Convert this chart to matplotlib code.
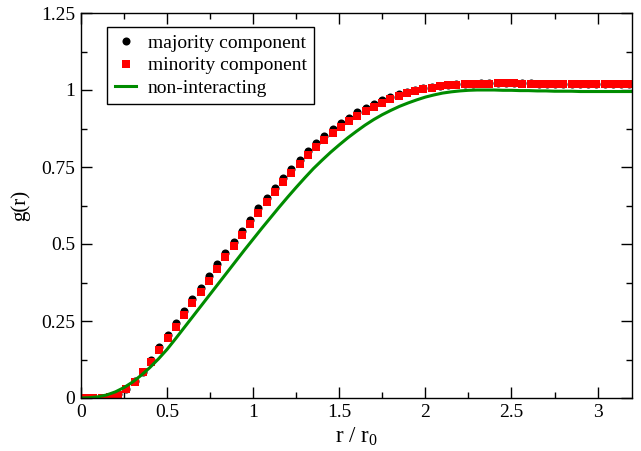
import numpy as np
import matplotlib
matplotlib.use('Agg')
import matplotlib.pyplot as plt
from matplotlib.ticker import MultipleLocator, FormatStrFormatter

plt.rcParams['font.family'] = ['Liberation Serif', 'DejaVu Serif']
plt.rcParams['mathtext.fontset'] = 'custom'
plt.rcParams['mathtext.rm'] = 'Liberation Serif'

# r / r0 grid of the simulated points (bin centres)
r_pts = (np.arange(67) + 0.5) * 0.0479

g_majority = [0.000, 0.000, 0.001, 0.004, 0.012, 0.029, 0.054, 0.086, 0.123, 0.164,
              0.206, 0.244, 0.282, 0.321, 0.357, 0.395, 0.434, 0.472, 0.507, 0.543,
              0.579, 0.616, 0.650, 0.682, 0.714, 0.745, 0.774, 0.803, 0.829, 0.852,
              0.874, 0.893, 0.910, 0.927, 0.941, 0.954, 0.966, 0.977, 0.986, 0.994,
              1.000, 1.006, 1.010, 1.014, 1.016, 1.018, 1.020, 1.021, 1.022, 1.022,
              1.023, 1.023, 1.023, 1.022, 1.022, 1.021, 1.021, 1.020, 1.020, 1.020,
              1.019, 1.019, 1.019, 1.019, 1.019, 1.019, 1.019]

g_minority = [0.000, 0.000, 0.001, 0.003, 0.011, 0.028, 0.052, 0.083, 0.117, 0.156,
              0.196, 0.232, 0.269, 0.307, 0.343, 0.381, 0.420, 0.458, 0.493, 0.529,
              0.565, 0.602, 0.636, 0.668, 0.700, 0.731, 0.760, 0.789, 0.815, 0.838,
              0.861, 0.881, 0.899, 0.917, 0.932, 0.946, 0.959, 0.971, 0.981, 0.989,
              0.996, 1.003, 1.008, 1.012, 1.015, 1.017, 1.019, 1.020, 1.021, 1.021,
              1.022, 1.022, 1.022, 1.021, 1.021, 1.020, 1.020, 1.019, 1.019, 1.019,
              1.018, 1.018, 1.018, 1.018, 1.018, 1.018, 1.018]

# non-interacting curve, sampled every 0.05
r_line = np.arange(65) * 0.05
g_free = [0.000, 0.001, 0.004, 0.010, 0.020, 0.034, 0.052, 0.074, 0.099, 0.127,
          0.158, 0.193, 0.229, 0.265, 0.301, 0.337, 0.373, 0.409, 0.445, 0.481,
          0.516, 0.551, 0.585, 0.619, 0.652, 0.684, 0.715, 0.745, 0.772, 0.798,
          0.822, 0.845, 0.866, 0.886, 0.904, 0.920, 0.934, 0.947, 0.958, 0.968,
          0.977, 0.984, 0.990, 0.994, 0.997, 0.999, 1.000, 1.000, 1.000, 0.999,
          0.999, 0.998, 0.998, 0.997, 0.997, 0.996, 0.996, 0.996, 0.995, 0.995,
          0.995, 0.995, 0.995, 0.995, 0.995]

fig = plt.figure(figsize=(6.41, 4.51), dpi=100)
ax = fig.add_axes([81 / 641, 53 / 451, 551 / 641, 385 / 451])

ax.plot(r_pts, g_majority, 'o', color='black', markersize=5.8, markeredgewidth=0,
        label='majority component')
ax.plot(r_pts, g_minority, 's', color='#ff0000', markersize=5.5, markeredgewidth=0,
        label='minority component')
ax.plot(r_line, g_free, '-', color='#008c00', linewidth=2.2, label='non-interacting')

ax.set_xlim(0, 3.2)
ax.set_ylim(0, 1.25)
ax.xaxis.set_major_locator(MultipleLocator(0.5))
ax.xaxis.set_minor_locator(MultipleLocator(0.25))
ax.yaxis.set_major_locator(MultipleLocator(0.25))
ax.yaxis.set_minor_locator(MultipleLocator(0.125))
ax.xaxis.set_major_formatter(FormatStrFormatter('%g'))
ax.yaxis.set_major_formatter(FormatStrFormatter('%g'))
ax.tick_params(which='both', direction='in', top=True, right=True, labelsize=14)
ax.tick_params(which='major', length=7.7, width=1, pad=4)
ax.tick_params(which='minor', length=4, width=1)
for s in ax.spines.values():
    s.set_linewidth(1.0)

ax.set_xlabel(r'r / r$_{\mathrm{0}}$', fontsize=16.5, labelpad=3)
ax.set_ylabel('g(r)', fontsize=15, labelpad=8)

leg = ax.legend(loc='upper left', bbox_to_anchor=(0.048, 0.964), borderaxespad=0,
                fontsize=14, numpoints=1, handlelength=1.1, handletextpad=0.6,
                borderpad=0.38, labelspacing=0.25, fancybox=False, framealpha=1)
leg.get_frame().set_edgecolor('black')
leg.get_frame().set_linewidth(1.0)

fig.savefig('out.png', dpi=100)
